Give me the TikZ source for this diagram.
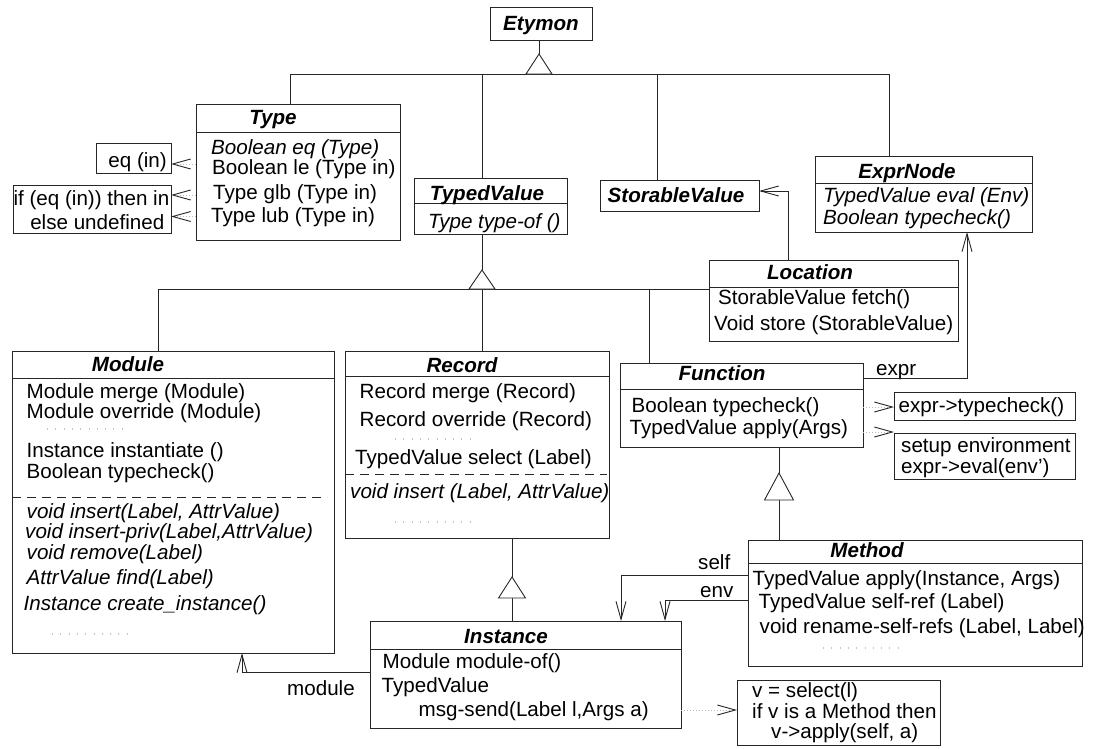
\documentclass[tikz,border=0pt]{standalone}
\usepackage{fontspec}
\setmainfont{Liberation Sans}
\usetikzlibrary{arrows.meta}

\tikzset{
  cls/.style={draw=black!85, line width=1pt, fill=white, rectangle, inner sep=0pt, outer sep=0pt},
  rule/.style={draw=black!85, line width=1pt},
  dashrule/.style={draw=black!85, line width=0.9pt, dash pattern=on 9pt off 6pt},
  elide/.style={draw=gray!45, line width=2.5pt, dash pattern=on 0.8pt off 7.5pt},
  txt/.style={font=\fontsize{20.6}{25}\selectfont, inner sep=0pt, anchor=mid west, yshift=-4.5pt},
  itxt/.style={txt, font=\fontsize{20.6}{25}\selectfont\itshape},
  rtxt/.style={txt, anchor=mid east},
  title/.style={font=\fontsize{20.6}{25}\selectfont\bfseries\itshape, inner sep=0pt, anchor=mid, yshift=-4.5pt},
  link/.style={draw=black!85, line width=0.9pt},
  gen/.style={draw=black!85, line width=0.9pt, fill=white, line join=miter},
  assoc/.style={link, -{Straight Barb[length=18pt,width=10pt]}},
  note/.style={draw=gray!55, line width=1pt, dash pattern=on 1pt off 2pt,
    -{Straight Barb[length=18pt,width=10pt,color=black!85,line width=0.9pt]}},
}

% class box given by its corners (x1,y1) and (x2,y2), y measured downwards
\newcommand\umlclass[5]{%
  \node[cls, minimum width={(#4)-(#2)}, minimum height={(#5)-(#3)}]
    (#1) at ({((#2)+(#4))/2},{((#3)+(#5))/2}) {};}
% horizontal compartment rule across a class box
\newcommand\clsdiv[2]{\draw[rule] (#1.west |- 0,#2) -- (#1.east |- 0,#2);}

\begin{document}
\begin{tikzpicture}[x=1pt, y=-1pt]
\useasboundingbox (0,0) rectangle (1099,748);

% ---------------- class boxes ----------------
\umlclass{etymon}{490}{7}{592}{40}
\umlclass{type}{196}{104}{400}{240}        \clsdiv{type}{132}
\umlclass{eqnote}{96}{143}{171}{173}
\umlclass{ifnote}{13}{185}{171}{233}
\umlclass{typedvalue}{414}{178}{567}{234}  \clsdiv{typedvalue}{203}
\umlclass{storable}{600}{180}{759}{211}
\umlclass{exprnode}{815}{156}{1032}{232}   \clsdiv{exprnode}{183}
\umlclass{location}{709}{260}{958}{341}    \clsdiv{location}{287}
\umlclass{module}{12}{351}{334}{653}       \clsdiv{module}{378}
\umlclass{record}{345}{351}{609}{538}      \clsdiv{record}{376}
\umlclass{function}{620}{363}{863}{447}    \clsdiv{function}{389}
\umlclass{tcnote}{894}{392}{1075}{420}
\umlclass{envnote}{894}{433}{1075}{479}
\umlclass{method}{748}{540}{1082}{666}     \clsdiv{method}{563}
\umlclass{instance}{370}{621}{681}{728}    \clsdiv{instance}{649}
\umlclass{sendnote}{737}{680}{940}{745}

% dashed rules between concrete and abstract operations
\draw[dashrule] (module.west |- 0,497) -- (327,497);
\draw[dashrule] (record.west |- 0,474) -- (607,474);

% elided operations
\draw[elide] (47,429) -- (128,429);
\draw[elide] (52,634) -- (133,634);
\draw[elide] (395,439) -- (476,439);
\draw[elide] (395,522) -- (476,522);
\draw[elide] (823,648) -- (900,648);

% ---------------- texts ----------------
\node[title] (t-etymon) at (541,23) {Etymon};

\node[title] (t-type) at (273,117) {Type};
\node[itxt] (type1) at (211,147) {Boolean eq (Type)};
\node[txt]  (type2) at (212,167.5) {Boolean le (Type in)};
\node[txt]  (type3) at (213,192) {Type glb (Type in)};
\node[txt]  (type4) at (211,215) {Type lub (Type in)};

\node[rtxt] (eq1) at (167,160.5) {eq (in)};
\node[rtxt] (if1) at (169.5,198) {if (eq (in)) then in};
\node[rtxt] (if2) at (164.5,222.5) {else undefined};

\node[title] (t-typedvalue) at (487,193) {TypedValue};
\node[itxt] (tv1) at (428,221.5) {Type type-of ()};

\node[title] (t-storable) at (676,195) {StorableValue};

\node[title] (t-exprnode) at (907,171) {ExprNode};
\node[itxt] (ex1) at (823,195) {TypedValue eval (Env)};
\node[itxt] (ex2) at (823,217) {Boolean typecheck()};

\node[title] (t-location) at (810,272) {Location};
\node[txt] (loc1) at (718,297.5) {StorableValue fetch()};
\node[txt] (loc2) at (714,323) {Void store (StorableValue)};

\node[title] (t-module) at (128,364) {Module};
\node[txt]  (mod1) at (26.5,391) {Module merge (Module)};
\node[txt]  (mod2) at (26.5,411) {Module override (Module)};
\node[txt]  (mod3) at (26.5,450) {Instance instantiate ()};
\node[txt]  (mod4) at (26.5,471.5) {Boolean typecheck()};
\node[itxt] (mod5) at (26.5,511.5) {void insert(Label, AttrValue)};
\node[itxt] (mod6) at (25,531.5) {void insert-priv(Label,AttrValue)};
\node[itxt] (mod7) at (26.5,552) {void remove(Label)};
\node[itxt] (mod8) at (26.5,577) {AttrValue find(Label)};
\node[itxt] (mod9) at (23.5,603.5) {Instance create\_instance()};

\node[title] (t-record) at (462,365) {Record};
\node[txt]  (rec1) at (359.5,391.5) {Record merge (Record)};
\node[txt]  (rec2) at (359.5,419.5) {Record override (Record)};
\node[txt]  (rec3) at (355,457.5) {TypedValue select (Label)};
\node[itxt] (rec4) at (350,491.5) {void insert (Label, AttrValue)};

\node[title] (t-function) at (722,373.5) {Function};
\node[txt] (fun1) at (631.5,405) {Boolean typecheck()};
\node[txt] (fun2) at (629.5,427.5) {TypedValue apply(Args)};

\node[txt] (tc1) at (898.5,405.5) {expr->typecheck()};
\node[txt] (env1) at (901,445) {setup environment};
\node[txt] (env2) at (901,466.5) {expr->eval(env’)};

\node[title] (t-method) at (867,550) {Method};
\node[txt] (met1) at (752.5,578.5) {TypedValue apply(Instance, Args)};
\node[txt] (met2) at (758.5,601.5) {TypedValue self-ref (Label)};
\node[txt] (met3) at (759.5,626.5) {void rename-self-refs (Label, Label)};

\node[title] (t-instance) at (506,636) {Instance};
\node[txt] (ins1) at (382.5,661.5) {Module module-of()};
\node[txt] (ins2) at (381.5,685) {TypedValue};
\node[txt] (ins3) at (418.5,709.5) {msg-send(Label l,Args a)};

\node[txt] (snd1) at (752,690.5) {v = select(l)};
\node[txt] (snd2) at (752,711) {if v is a Method then};
\node[txt] (snd3) at (771,731.5) {v->apply(self, a)};

% association labels
\node[txt] (l-expr) at (876,368.5) {expr};
\node[txt] (l-self) at (698,562) {self};
\node[txt] (l-env) at (700,590) {env};
\node[txt] (l-module) at (287,688.5) {module};

% ---------------- generalisation: Etymon ----------------
\coordinate (eA) at (539,54);
\coordinate (bL) at (290,74);
\coordinate (bR) at (889,74);
\coordinate (bTV) at (482,74);
\coordinate (bSV) at (657,74);
\draw[link] (etymon.south -| eA) -- (eA);
\draw[link] (type.north -| bL) -- (bL) -- (bR) -- (exprnode.north -| bR);
\draw[link] (bTV) -- (typedvalue.north -| bTV);
\draw[link] (bSV) -- (storable.north -| bSV);
\draw[gen] (eA) -- ++(-13,20) -- ++(26,0) -- cycle;

% ---------------- generalisation: TypedValue ----------------
\coordinate (tA) at (482,270);
\coordinate (cL) at (158,289);
\coordinate (cF) at (649,289);
\draw[link] (typedvalue.south -| tA) -- (tA);
\draw[link] (module.north -| cL) -- (cL) -- (location.west |- cL);
\draw[link] (tA |- cL) -- (record.north -| tA);
\draw[link] (cF) -- (function.north -| cF);
\draw[gen] (tA) -- ++(-13,19) -- ++(26,0) -- cycle;

% ---------------- generalisation: Function -> Method ----------------
\coordinate (fA) at (779,473);
\coordinate (fB) at (779,500);
\draw[link] (function.south -| fA) -- (fA);
\draw[link] (fB) -- (method.north -| fB);
\draw[gen] (fA) -- ++(-14.5,27) -- ++(29,0) -- cycle;

% ---------------- generalisation: Record -> Instance ----------------
\coordinate (rA) at (512,577);
\coordinate (rB) at (512,598);
\draw[link] (record.south -| rA) -- (rA);
\draw[link] (rB) -- (instance.north -| rB);
\draw[gen] (rA) -- ++(-13.5,21) -- ++(27,0) -- cycle;

% ---------------- associations ----------------
\coordinate (lS) at (788,191);
\draw[assoc] (location.north -| lS) -- (lS) -- (storable.east |- lS);

\coordinate (fE) at (967,378);
\draw[assoc] (function.east |- fE) -- (fE) -- (exprnode.south -| fE);

\coordinate (mS) at (621,575);
\draw[assoc] (method.west |- mS) -- (mS) -- (instance.north -| mS);
\coordinate (mE) at (665,600);
\draw[assoc] (method.west |- mE) -- (mE) -- (instance.north -| mE);

\coordinate (iM) at (242,672);
\draw[assoc] (instance.west |- iM) -- (iM) -- (module.south -| iM);

% ---------------- implementation notes ----------------
\draw[note] (type.west |- 0,164) -- (eqnote.east |- 0,164);
\draw[note] (type.west |- 0,195) -- (ifnote.east |- 0,195);
\draw[note] (type.west |- 0,216.5) -- (ifnote.east |- 0,216.5);
\draw[note] (function.east |- 0,407) -- (tcnote.west |- 0,407);
\draw[note] (function.east |- 0,432) -- (envnote.west |- 0,432);
\draw[note] (instance.east |- 0,710) -- (sendnote.west |- 0,710);

\end{tikzpicture}
\end{document}
